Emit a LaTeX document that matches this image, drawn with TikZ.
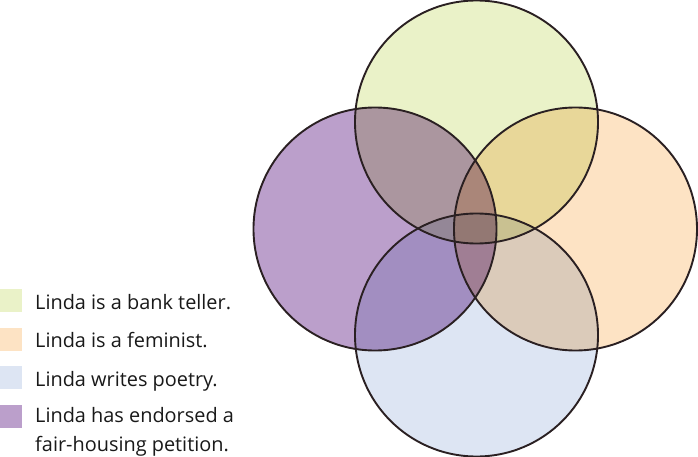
\documentclass[tikz,border=0pt]{standalone}
\usepackage{fontspec}
\setmainfont{Open Sans}
\definecolor{cbank}{HTML}{EAF2C8}
\definecolor{cfem}{HTML}{FDE3C4}
\definecolor{cpoet}{HTML}{DDE5F3}
\definecolor{chous}{HTML}{BB9FCB}
\definecolor{cline}{HTML}{2A2022}
\tikzset{
  ring/.style={draw=cline, line width=1.9pt},
  swatch/.style={minimum width=22pt, minimum height=23pt, inner sep=0pt, anchor=west},
  legtext/.style={anchor=base west, inner sep=0pt, font=\fontsize{19.9}{29}\selectfont, text=black!90, align=left}
}
\begin{document}
\begin{tikzpicture}[x=1pt,y=-1pt]
\useasboundingbox (0,0) rectangle (698,457);
\coordinate (ct) at (476.5,122);
\coordinate (cr) at (575.5,229);
\coordinate (cb) at (476.5,335);
\coordinate (cl) at (375,229);
\begin{scope}[blend group=multiply]
  \fill[cbank] (ct) circle (121.5);
  \fill[cfem] (cr) circle (121.5);
  \fill[cpoet] (cb) circle (121.5);
  \fill[chous] (cl) circle (121.5);
\end{scope}
\draw[ring] (ct) circle (121.5);
\draw[ring] (cr) circle (121.5);
\draw[ring] (cb) circle (121.5);
\draw[ring] (cl) circle (121.5);
% legend
\node[swatch, fill=cbank] (s1) at (0,300) {};
\node[swatch, fill=cfem] (s2) at (0,339) {};
\node[swatch, fill=cpoet] (s3) at (0,377.5) {};
\node[swatch, fill=chous] (s4) at (0,416.5) {};
\node[legtext] (t1) at (35,309) {Linda is a bank teller.};
\node[legtext] (t2) at (35,347.5) {Linda is a feminist.};
\node[legtext] (t3) at (35,386) {Linda writes poetry.};
\node[legtext, anchor=north west] (t4) at (35,407.5) {Linda has endorsed a\\fair-housing petition.};
\end{tikzpicture}
\end{document}
